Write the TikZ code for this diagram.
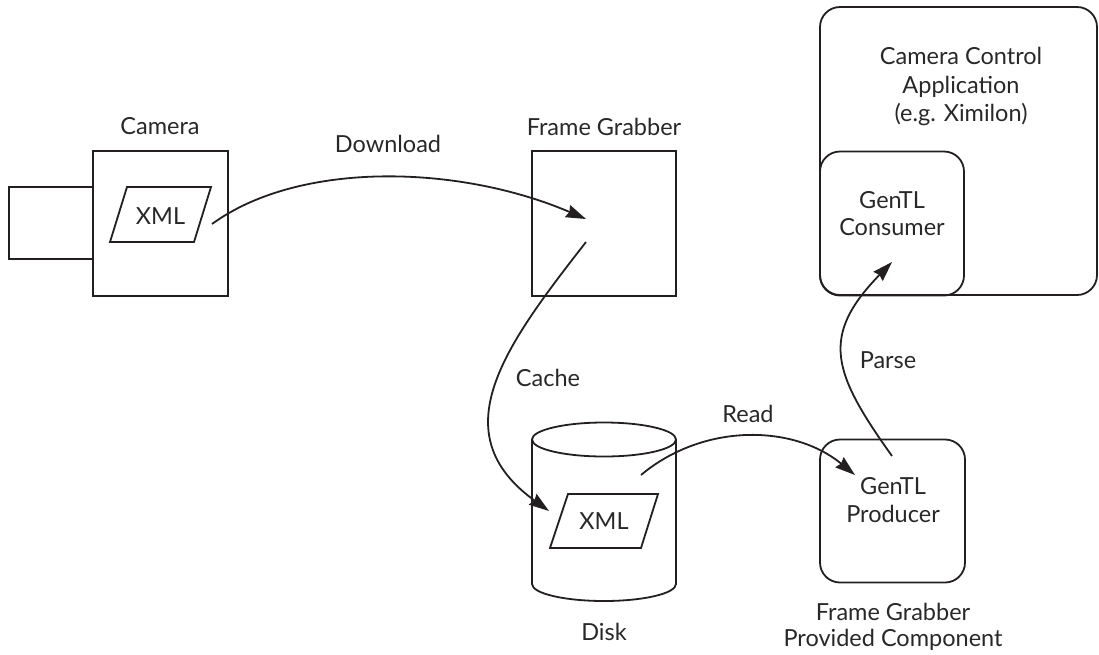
\documentclass[tikz,border=0pt]{standalone}
\usepackage{fontspec}
\setmainfont{Lato}
\usetikzlibrary{shapes.geometric,arrows.meta}
\definecolor{ln}{RGB}{35,31,32}
\definecolor{tx}{RGB}{40,40,40}
\begin{document}
\begin{tikzpicture}[x=1pt,y=-1pt,
  every node/.style={font=\fontsize{23.5}{28}\selectfont, text=tx},
  sq/.style={draw=ln, line width=1.8pt, inner sep=0pt},
  rbox/.style={sq, rounded corners=20pt},
  para/.style={draw=ln, line width=1.8pt, line join=miter},
  lbl/.style={anchor=base, inner sep=0pt},
  conn/.style={draw=ln, line width=1.8pt, -{Stealth[length=20pt,width=13pt,inset=2pt]}}]
\useasboundingbox (0,0) rectangle (1099,654);
% camera
\node[sq, minimum width=85pt, minimum height=72pt] (lens) at (51.5,223) {};
\node[sq, minimum width=135pt, minimum height=145pt, fill=white] (cam) at (160.5,223.5) {};
\draw[para] (127,187) -- (211,187) -- (194,242) -- (110,242) -- cycle;
\node[lbl] (camxml) at (160.5,224) {XML};
\node[lbl] (camL) at (160,134) {Camera};
% frame grabber
\node[sq, minimum width=144pt, minimum height=145pt] (fg) at (604,223.5) {};
\node[lbl] (fgL) at (604,135) {Frame Grabber};
% disk
\draw[ln, line width=1.8pt] (532,439.5) -- (532,584) arc (180:0:72 and 17) -- (676,439.5);
\draw[ln, line width=1.8pt] (604,439.5) ellipse (72 and 17);
\draw[para] (568,494) -- (658,494) -- (641,548) -- (550,548) -- cycle;
\node[lbl] (diskxml) at (604,529) {XML};
\node[lbl] (diskL) at (604,640) {Disk};
% application
\node[rbox, minimum width=277pt, minimum height=288pt] (app) at (958.5,151) {};
\node[lbl] (ap1) at (961,64) {Camera Control};
\node[lbl] (ap2) at (961,93) {Application};
\node[lbl] (ap3) at (961,121) {(e.g. Ximilon)};
\node[rbox, minimum width=144pt, minimum height=144pt] (cons) at (892,223.5) {};
\node[lbl] (co1) at (892,208) {GenTL};
\node[lbl] (co2) at (892,235) {Consumer};
% producer
\node[rbox, minimum width=145pt, minimum height=143pt] (prod) at (892.5,511) {};
\node[lbl] (pr1) at (893,494) {GenTL};
\node[lbl] (pr2) at (893,522) {Producer};
\node[lbl] (fp1) at (893,620) {Frame Grabber};
\node[lbl] (fp2) at (893,646) {Provided Component};
% connector labels
\node[lbl] (dlL) at (388,152) {Download};
\node[lbl] (caL) at (548,386) {Cache};
\node[lbl] (rdL) at (748,422) {Read};
\node[lbl] (paL) at (888,368) {Parse};
% connectors
\coordinate (dlS) at (212,224);
\coordinate (dlE) at (586,219);
\coordinate (caS) at (586,242);
\coordinate (caE) at (549,511);
\coordinate (rdS) at (641,475);
\coordinate (rdE) at (855,475);
\coordinate (paS) at (892,456);
\coordinate (paE) at (892,262);
\draw[conn] (dlS) .. controls (300,160) and (460,165) .. (dlE);
\draw[conn] (caS) .. controls (504,347) and (441,433) .. (caE);
\draw[conn] (rdS) .. controls (703,423) and (793,424) .. (rdE);
\draw[conn] (paS) .. controls (832,372) and (820,336) .. (paE);
\end{tikzpicture}
\end{document}
